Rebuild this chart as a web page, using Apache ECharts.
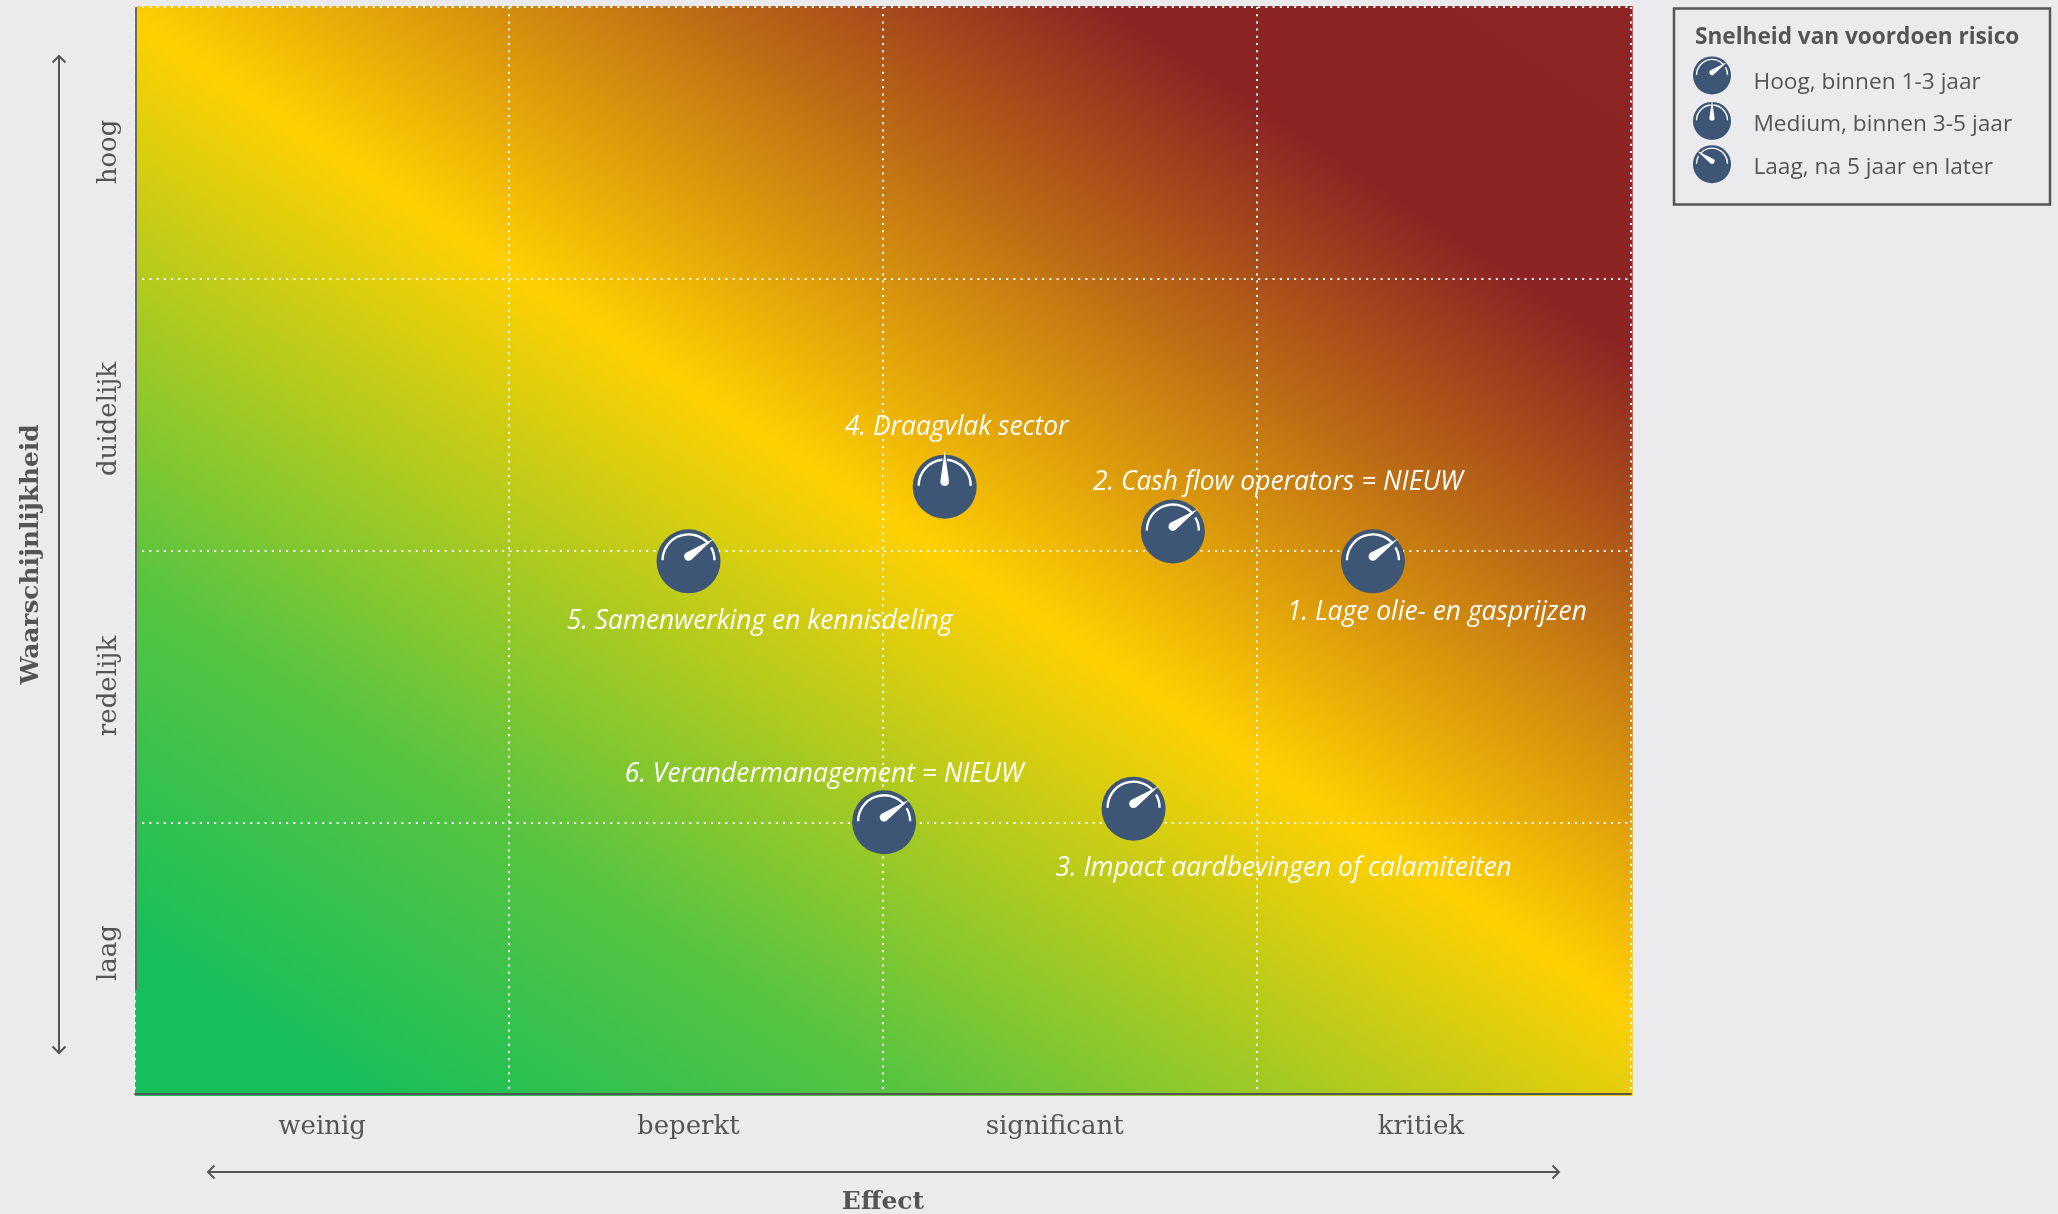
<!DOCTYPE html>
<html>
<head>
<meta charset="utf-8">
<style>html,body{margin:0;padding:0;background:#ebebed;}#c{width:2058px;height:1214px;}</style>
<script src="https://cdn.jsdelivr.net/npm/echarts@6/dist/echarts.min.js"></script>
</head>
<body>
<div id="c"></div>
<script>
const effectLabels = ['weinig', 'beperkt', 'significant', 'kritiek'];
const likelihoodLabels = ['laag', 'redelijk', 'duidelijk', 'hoog'];
const riskNames = ['1. Lage olie- en gasprijzen', '2. Cash flow operators = NIEUW', '3. Impact aardbevingen of calamiteiten', '4. Draagvlak sector', '5. Samenwerking en kennisdeling', '6. Verandermanagement = NIEUW'];
const riskEffect = [3.31, 2.775, 2.67, 2.165, 1.48, 2.003];
const riskLikelihood = [1.96, 2.07, 1.05, 2.235, 1.96, 1.0];
const riskSpeed = [0, 0, 0, 1, 0, 0];
const speedNames = ['Hoog, binnen 1-3 jaar', 'Medium, binnen 3-5 jaar', 'Laag, na 5 jaar en later'];

const labelOffsets = [[64, 51], [105, -49], [150, 60], [12, -59], [71, 60], [-60, -48]];
const needleAngles = [55, 0, -55];
const legendIconLift = [11.8, 6.8, 5.5];
const INK = '#555555', NAVY = '#3d5675', SERIF = '"DejaVu Serif"', SANS = '"Open Sans"';

function gaugeIcon(theta, half, lift) {
  const r = 26, gap = 5, pt = a => {
    const t = a * Math.PI / 180;
    return (r * Math.sin(t)).toFixed(2) + ',' + (-1 - r * Math.cos(t)).toFixed(2);
  };
  const arc = (a, b) => 'M' + pt(a) + ' A' + r + ',' + r + ' 0 0 1 ' + pt(b);
  const svg = '<svg xmlns="http://www.w3.org/2000/svg" width="' + half * 8 + '" height="' + half * 8 +
    '" viewBox="' + (-half) + ' ' + (-half + lift) + ' ' + half * 2 + ' ' + half * 2 + '">' +
    '<circle r="32" fill="' + NAVY + '"/>' +
    '<path d="' + arc(-90, theta - gap) + ' ' + arc(theta + gap, 90) + '" fill="none" stroke="#fff" stroke-width="2.4"/>' +
    '<path transform="translate(0,-5) rotate(' + theta + ')" d="M0,-31 L4.4,0 A4.4,4.4 0 1 1 -4.4,0 Z" fill="#fff"/>' +
    '</svg>';
  return 'image://data:image/svg+xml;charset=utf-8,' + encodeURIComponent(svg);
}

const riskIndexes = riskNames.map((_, i) => i);
const series = speedNames.map((name, s) => ({
  type: 'scatter',
  name,
  xAxisIndex: 0,
  yAxisIndex: 0,
  symbol: gaugeIcon(needleAngles[s], 37, 0),
  symbolSize: 74,
  z: 5,
  itemStyle: { opacity: 1 },
  data: riskIndexes.filter(i => riskSpeed[i] === s).map(i => ({
    name: riskNames[i],
    value: [riskEffect[i], riskLikelihood[i]],
    label: { offset: labelOffsets[i] }
  })),
  label: {
    show: true,
    position: 'inside',
    align: 'center',
    verticalAlign: 'middle',
    formatter: p => p.name,
    color: '#fff',
    fontFamily: SANS,
    fontStyle: 'italic',
    fontSize: 26.4
  }
}));

const arrow = (x1, y1, x2, y2, ux, uy) => {
  const h = 6.5;
  return [
    { type: 'line', shape: { x1, y1, x2, y2 }, style: { stroke: INK, lineWidth: 2 }, silent: true },
    { type: 'polyline', shape: { points: [[x2 - ux * h + uy * h, y2 - uy * h + ux * h], [x2, y2], [x2 - ux * h - uy * h, y2 - uy * h - ux * h]] }, style: { stroke: INK, lineWidth: 2, fill: null }, silent: true },
    { type: 'polyline', shape: { points: [[x1 + ux * h + uy * h, y1 + uy * h + ux * h], [x1, y1], [x1 + ux * h - uy * h, y1 + uy * h - ux * h]] }, style: { stroke: INK, lineWidth: 2, fill: null }, silent: true }
  ];
};

const chart = echarts.init(document.getElementById('c'), null, { renderer: 'canvas' });
chart.setOption({
  animation: false,
  backgroundColor: '#ebebed',
  grid: [
    { left: 135, top: 7, width: 1496, height: 1087, z: 2, outerBoundsMode: 'none' },
    { left: 139, top: 18.5, width: 1465, height: 1068, z: 2, outerBoundsMode: 'none' }
  ],
  xAxis: [
    {
      type: 'value', gridIndex: 0, min: 0, max: 4, interval: 1,
      name: 'Effect', nameLocation: 'middle', nameGap: 96,
      nameTextStyle: { fontFamily: SERIF, fontWeight: 'bold', fontSize: 25, color: INK },
      axisLine: { show: true, onZero: false, lineStyle: { color: INK, width: 2 } },
      axisTick: { show: false }, axisLabel: { show: false },
      splitLine: { show: true, lineStyle: { color: '#fff', width: 2, type: [2, 5.2] } }
    },
    {
      type: 'category', gridIndex: 1, data: effectLabels,
      axisLine: { show: false }, axisTick: { show: false }, splitLine: { show: false },
      axisLabel: { margin: 28, fontFamily: SERIF, fontSize: 26, color: INK }
    }
  ],
  yAxis: [
    {
      type: 'value', gridIndex: 0, min: 0, max: 4, interval: 1,
      name: 'Waarschijnlijkheid', nameLocation: 'middle', nameGap: 91, nameRotate: 90,
      nameTextStyle: { fontFamily: SERIF, fontWeight: 'bold', fontSize: 24.8, color: INK, padding: [0, 8, 0, 0] },
      axisLine: { show: false }, axisTick: { show: false }, axisLabel: { show: false },
      splitLine: { show: true, lineStyle: { color: '#fff', width: 2, type: [2, 5.2] } }
    },
    {
      type: 'category', gridIndex: 1, data: likelihoodLabels,
      axisLine: { show: false }, axisTick: { show: false }, splitLine: { show: false },
      axisLabel: { rotate: 90, margin: 17, fontFamily: SERIF, fontSize: 26, color: INK }
    }
  ],
  legend: {
    orient: 'vertical', left: 1684.6, top: 55.1, padding: 0, itemGap: -12.3, itemWidth: 54.8, itemHeight: 54.8,
    data: speedNames.map((name, s) => ({ name, icon: gaugeIcon(needleAngles[s], 46, legendIconLift[s]) })),
    textStyle: { fontFamily: SANS, fontSize: 22.7, color: INK, padding: [0, 0, 0, 9] },
    selectedMode: false
  },
  graphic: [
    {
      type: 'rect', z: -10, silent: true,
      shape: { x: 135, y: 6, width: 1497.7, height: 1090 },
      style: {
        fill: new echarts.graphic.LinearGradient(135, 1096, 135 + 954, 1096 - 1444, [
          { offset: 0, color: '#17bf5a' },
          { offset: 0.0745, color: '#17bf5a' },
          { offset: 0.251, color: '#58c440' },
          { offset: 0.518, color: '#ffd000' },
          { offset: 0.835, color: '#8c2424' },
          { offset: 1, color: '#8e2525' }
        ], true)
      }
    },
    { type: 'line', z: 3, silent: true, shape: { x1: 136, y1: 7, x2: 136, y2: 990 }, style: { stroke: '#6a6a6a', lineWidth: 2 } },
    ...arrow(59, 56, 59, 1053, 0, 1),
    ...arrow(208, 1172, 1559, 1172, 1, 0),
    { type: 'rect', silent: true, shape: { x: 1674, y: 8.5, width: 376, height: 196 }, style: { fill: 'transparent', stroke: INK, lineWidth: 2.5 } },
    { type: 'text', silent: true, x: 1695, y: 38, style: { text: 'Snelheid van voordoen risico', fontFamily: SANS, fontWeight: 'bold', fontSize: 22.6, fill: INK, verticalAlign: 'middle' } }
  ],
  series
});
</script>
</body>
</html>
